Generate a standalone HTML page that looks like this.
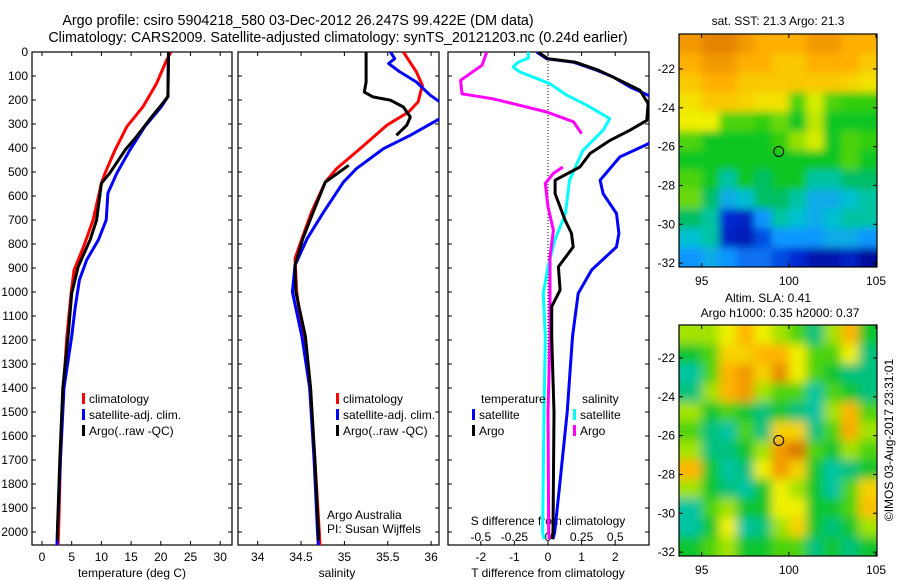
<!DOCTYPE html>
<html><head><meta charset="utf-8"><style>
html,body{margin:0;padding:0;background:#fff;}
svg{display:block;font-family:"Liberation Sans",Arial,sans-serif;}
</style></head><body>
<svg id="c" width="900" height="580" viewBox="0 0 900 580" xmlns="http://www.w3.org/2000/svg">
<defs>
<clipPath id="cp1"><rect x="32" y="52" width="200" height="493"/></clipPath>
<clipPath id="cp2"><rect x="238" y="52" width="201" height="493"/></clipPath>
<clipPath id="cp3"><rect x="448" y="52" width="201" height="493"/></clipPath>
<clipPath id="cm1"><rect x="679" y="34" width="198" height="233"/></clipPath>
<clipPath id="cm2"><rect x="679" y="325" width="198" height="231"/></clipPath>
<filter id="b1" x="-5%" y="-5%" width="110%" height="110%"><feGaussianBlur stdDeviation="4"/></filter>
<filter id="b2" x="-5%" y="-5%" width="110%" height="110%"><feGaussianBlur stdDeviation="5"/></filter>
</defs>
<text x="298" y="25" text-anchor="middle" font-size="14.3">Argo profile: csiro 5904218_580 03-Dec-2012 26.247S 99.422E (DM data)</text>
<text x="338" y="42" text-anchor="middle" font-size="14.3">Climatology: CARS2009. Satellite-adjusted climatology: synTS_20121203.nc (0.24d earlier)</text>
<text x="778" y="25" text-anchor="middle" font-size="12">sat. SST: 21.3 Argo: 21.3</text>
<text x="768" y="302" text-anchor="middle" font-size="12">Altim. SLA: 0.41</text>
<text x="780" y="317" text-anchor="middle" font-size="12">Argo h1000: 0.35 h2000: 0.37</text>
<text transform="translate(893,440) rotate(-90)" text-anchor="middle" font-size="12">©IMOS 03-Aug-2017 23:31:01</text>
<g id="g"></g>
</svg>
<script>
const tDepthBlue=[0,186,228,311,408,505,588,700,783,867,950,1061,1185,1400,1700,2000,2060];
const tBlue=[21.3,21.2,20.1,17.3,14.8,12.6,11.1,10.8,9.5,7.5,6.3,5.6,5.0,3.7,3.1,2.6,2.5];
const tDepthRed=[0,33,131,228,311,408,505,547,700,811,908,1006,1185,1400,1700,2000,2060];
const tRed=[21.7,21.0,19.3,17.0,14.3,12.3,10.6,10.0,8.6,7.0,5.4,4.9,4.2,3.6,3.1,2.8,2.7];
const tDepthArgo=[0,186,214,269,353,408,505,547,700,783,894,1006,1185,1400,1700,2000,2035];
const tArgo=[21.3,21.2,20.3,18.5,15.9,14.0,11.4,10.0,9.2,8.1,6.1,5.0,4.4,3.5,3.0,2.6,2.6];
const sDepthRed=[0,83,139,208,250,305,403,486,542,667,778,861,1000,1185,1400,1700,2000,2060];
const sRed=[35.68,35.83,35.90,35.85,35.74,35.49,35.18,34.91,34.78,34.62,34.51,34.43,34.45,34.52,34.6,34.66,34.71,34.72];
const sDepthBlue=[0,28,48,83,125,180,208,245,278,347,403,486,542,667,778,889,1000,1185,1400,1700,2000,2060];
const sBlue=[35.53,35.58,35.51,35.64,35.83,35.99,36.1,36.3,36.1,35.76,35.45,35.14,34.99,34.76,34.57,34.43,34.40,34.51,34.6,34.65,34.69,34.7];
const sDepthArgoA=[0,125,167,187,201,229,271,305,347];
const sArgoA=[35.25,35.25,35.23,35.33,35.53,35.68,35.76,35.72,35.60];
const sDepthArgoB=[472,542,667,778,889,1000,1185,1400,1700,2000,2035];
const sArgoB=[35.05,34.78,34.64,34.52,34.43,34.44,34.55,34.61,34.66,34.7,34.7];
const dDepthTSat=[0,28,42,76,104,146,180,280,383,437,534,590,673,756,812,908,1006,1186,1500,1800,2000,2030];
const dTSat=[-0.34,-0.04,0.75,1.45,1.94,2.44,2.98,3.6,2.98,2.14,1.55,1.64,2.04,2.11,2.04,1.30,0.90,0.73,0.57,0.35,0.2,0.15];
const dDepthTArgo=[0,28,42,76,118,160,215,285,326,368,423,479,534,590,701,756,812,895,992,1061,1186,1500,2000,2030];
const dTArgo=[-0.3,0.0,0.8,1.5,2.14,2.74,2.98,2.94,2.44,1.85,1.25,0.95,0.21,0.21,0.51,0.70,0.75,0.31,0.36,0.11,0.11,0.18,0.15,0.12];
const dDepthSSat=[0,25,42,62,83,132,180,222,278,326,410,534,673,785,895,1006,1186,1500,2000,2030];
const dSSat=[-0.146,-0.146,-0.22,-0.26,-0.21,0.015,0.14,0.29,0.46,0.41,0.26,0.16,0.13,0.05,0.0,-0.035,-0.02,-0.03,-0.04,-0.03];
const dDepthSArgoA=[0,55,118,174,195,222,250,291,340];
const dSArgoA=[-0.456,-0.49,-0.65,-0.64,-0.41,-0.21,-0.01,0.19,0.25];
const dDepthSArgoB=[479,506,548,645,743,854,1006,1186,1500,2000,2030];
const dSArgoB=[0.11,0.04,-0.02,0.0,0.04,0.015,0.015,0.015,0.0,0.005,0.01];
const depthTicks=[0,100,200,300,400,500,600,700,800,900,1000,1100,1200,1300,1400,1500,1600,1700,1800,1900,2000];
const tTicks=[0,5,10,15,20,25,30];
const sTicks=[34,34.5,35,35.5,36];
const sTickLabels=['34','34.5','35','35.5','36'];
const dTTicks=[-2,-1,0,1,2];
const dSTicks=[-0.5,-0.25,0,0.25,0.5];
const dSTickLabels=['-0.5','-0.25','0','0.25','0.5'];
const sstGrid=[
[0.9,0.95,0.95,0.9,0.85,0.85,0.85,0.9,0.9,0.85,0.85],
[0.85,0.9,0.9,0.85,0.85,0.8,0.8,0.85,0.85,0.85,0.8],
[0.8,0.85,0.85,0.8,0.8,0.8,0.8,0.8,0.8,0.78,0.75],
[0.75,0.8,0.8,0.78,0.75,0.75,0.6,0.7,0.6,0.58,0.58],
[0.72,0.72,0.6,0.6,0.58,0.62,0.55,0.68,0.55,0.55,0.55],
[0.6,0.55,0.55,0.55,0.55,0.58,0.65,0.7,0.55,0.6,0.58],
[0.55,0.55,0.55,0.55,0.55,0.55,0.55,0.55,0.55,0.6,0.55],
[0.6,0.55,0.45,0.55,0.5,0.55,0.55,0.45,0.45,0.5,0.5],
[0.62,0.5,0.35,0.4,0.5,0.5,0.45,0.35,0.35,0.4,0.45],
[0.5,0.45,0.15,0.12,0.3,0.45,0.4,0.35,0.4,0.45,0.45],
[0.4,0.45,0.12,0.1,0.2,0.3,0.3,0.3,0.35,0.35,0.3],
[0.3,0.35,0.3,0.25,0.25,0.2,0.15,0.08,0.08,0.12,0.05]];
const slaGrid=[
[0.65,0.65,0.7,0.8,0.7,0.65,0.6,0.5,0.65,0.8,0.55],
[0.55,0.6,0.75,0.75,0.8,0.8,0.7,0.6,0.6,0.7,0.5],
[0.4,0.6,0.8,0.85,0.75,0.88,0.7,0.6,0.55,0.5,0.5],
[0.5,0.65,0.8,0.85,0.65,0.6,0.6,0.45,0.6,0.55,0.5],
[0.65,0.55,0.6,0.55,0.5,0.55,0.5,0.35,0.65,0.8,0.6],
[0.6,0.5,0.45,0.6,0.5,0.75,0.75,0.5,0.6,0.82,0.65],
[0.65,0.5,0.5,0.55,0.65,0.85,0.92,0.6,0.55,0.65,0.6],
[0.8,0.55,0.45,0.5,0.7,0.85,0.75,0.55,0.4,0.5,0.55],
[0.65,0.55,0.5,0.45,0.55,0.7,0.65,0.55,0.45,0.6,0.75],
[0.45,0.6,0.65,0.55,0.55,0.7,0.7,0.55,0.55,0.6,0.78],
[0.35,0.55,0.7,0.35,0.5,0.65,0.75,0.55,0.5,0.55,0.65],
[0.55,0.6,0.65,0.55,0.55,0.6,0.6,0.5,0.55,0.5,0.55]];
const latTicks=[-22,-24,-26,-28,-30,-32];
const lonTicks=[95,100,105];
const argoLon=99.42, argoLat=-26.25;

const NS='http://www.w3.org/2000/svg';
const G=document.getElementById('g');
function mk(tag,attrs,parent){const e=document.createElementNS(NS,tag);for(const k in attrs)e.setAttribute(k,attrs[k]);(parent||G).appendChild(e);return e;}
function yD(d){return 52+d*0.24;}
function xT(t){return 42+t*5.94;}
function xS(s){return 257.7+(s-34)*86.7;}
function xdT(t){return 548+t*33.6;}
function xdS(s){return 548+s*134.4;}
function line(xs,ds,fx,col,clip,name,w){
  let p='';for(let i=0;i<xs.length;i++){p+=(i?'L':'M')+fx(xs[i]).toFixed(1)+','+yD(ds[i]).toFixed(1);}
  const e=mk('path',{d:p,fill:'none',stroke:col,'stroke-width':w||3,'clip-path':'url(#'+clip+')','stroke-linejoin':'round'});
  
  
}
function panel(x0,x1,name){
  const r=mk('rect',{x:x0,y:52,width:x1-x0,height:493,fill:'none',stroke:'#000','stroke-width':1.2});
  
  
  depthTicks.forEach(d=>{const y=yD(d);mk('line',{x1:x0,x2:x0+4,y1:y,y2:y,stroke:'#000'});mk('line',{x1:x1-4,x2:x1,y1:y,y2:y,stroke:'#000'});});
}
function txt(x,y,s,name,anchor,size){const e=mk('text',{x:x,y:y,'font-size':size||12,'text-anchor':anchor||'middle'});e.textContent=s;
  
  
  return e;}
panel(32,232,'temperature-panel');
depthTicks.forEach(d=>{txt(28,yD(d)+4,String(d),'depth-tick-label','end');});
tTicks.forEach(t=>{const x=xT(t);mk('line',{x1:x,x2:x,y1:52,y2:56,stroke:'#000'});mk('line',{x1:x,x2:x,y1:541,y2:545,stroke:'#000'});txt(x,561,String(t),'temp-tick-label');});
txt(132,577,'temperature (deg C)','temperature-axis-title');
line(tRed,tDepthRed,xT,'#f00','cp1','temp-climatology-line');
line(tBlue,tDepthBlue,xT,'#00f','cp1','temp-satellite-line');
line(tArgo,tDepthArgo,xT,'#000','cp1','temp-argo-line');
function legend(x,y,col,label,name){mk('rect',{x:x,y:y-10,width:3,height:11,fill:col});txt(x+7,y,label,name,'start');}
legend(82,403,'#f00','climatology','legend-climatology');
legend(82,419,'#00f','satellite-adj. clim.','legend-satellite');
legend(82,435,'#000','Argo(..raw -QC)','legend-argo');
panel(238,439,'salinity-panel');
sTicks.forEach((s,i)=>{const x=xS(s);mk('line',{x1:x,x2:x,y1:52,y2:56,stroke:'#000'});mk('line',{x1:x,x2:x,y1:541,y2:545,stroke:'#000'});txt(x,561,sTickLabels[i],'salinity-tick-label');});
txt(337,577,'salinity','salinity-axis-title');
line(sRed,sDepthRed,xS,'#f00','cp2','sal-climatology-line');
line(sBlue,sDepthBlue,xS,'#00f','cp2','sal-satellite-line');
line(sArgoA,sDepthArgoA,xS,'#000','cp2','sal-argo-line-upper');
line(sArgoB,sDepthArgoB,xS,'#000','cp2','sal-argo-line-lower');
legend(336,403,'#f00','climatology','legend-climatology-2');
legend(336,419,'#00f','satellite-adj. clim.','legend-satellite-2');
legend(336,435,'#000','Argo(..raw -QC)','legend-argo-2');
txt(327,519,'Argo Australia','argo-australia-label','start');
txt(327,533,'PI: Susan Wijffels','pi-label','start');
panel(448,649,'difference-panel');
mk('line',{x1:548,x2:548,y1:52,y2:545,stroke:'#000','stroke-dasharray':'1,2'});
dTTicks.forEach(t=>{const x=xdT(t);mk('line',{x1:x,x2:x,y1:52,y2:56,stroke:'#000'});mk('line',{x1:x,x2:x,y1:541,y2:545,stroke:'#000'});txt(x,561,String(t),'tdiff-tick-label');});
dSTicks.forEach((s,i)=>{txt(xdS(s),541,dSTickLabels[i],'sdiff-tick-label');});
txt(548,525,'S difference from climatology','sdiff-axis-title');
txt(548,577,'T difference from climatology','tdiff-axis-title');
line(dSSat,dDepthSSat,xdS,'#0ff','cp3','sdiff-satellite-line');
line(dSArgoA,dDepthSArgoA,xdS,'#f0f','cp3','sdiff-argo-line-upper');
line(dSArgoB,dDepthSArgoB,xdS,'#f0f','cp3','sdiff-argo-line-lower');
line(dTSat,dDepthTSat,xdT,'#00f','cp3','tdiff-satellite-line');
line(dTArgo,dDepthTArgo,xdT,'#000','cp3','tdiff-argo-line');
txt(481,403,'temperature','legend-temperature-header','start');
legend(472,419,'#00f','satellite','legend-t-satellite');
legend(472,435,'#000','Argo','legend-t-argo');
txt(582,403,'salinity','legend-salinity-header','start');
legend(573,419,'#0ff','satellite','legend-s-satellite');
legend(573,435,'#f0f','Argo','legend-s-argo');
const stops=[[0,[0,0,128]],[0.15,[0,40,210]],[0.3,[16,150,255]],[0.42,[0,200,200]],[0.5,[0,190,100]],[0.56,[20,200,20]],[0.65,[150,225,0]],[0.72,[240,240,0]],[0.85,[255,175,0]],[1,[215,110,0]]];
function cmap(v){v=Math.max(0,Math.min(1,v));for(let i=1;i<stops.length;i++){if(v<=stops[i][0]){const a=stops[i-1],b=stops[i],f=(v-a[0])/(b[0]-a[0]);return 'rgb('+a[1].map((c,k)=>Math.round(c+(b[1][k]-c)*f)).join(',')+')';}}return 'rgb(215,110,0)';}
function map(grid,top,bot,latTop,clip,blur,name,gain,floor){
  const x0=679,x1=877,pxLon=(876-701.7)/10,pxLat=(bot-top)/((latTop)-(-32.2));
  const lx=l=>701.7+(l-95)*pxLon, ly=l=>top+(latTop-l)*pxLat;
  const g=mk('g',{'clip-path':'url(#'+clip+')'});
  
  
  const gg=mk('g',{filter:'url(#'+blur+')'},g);
  const rows=grid.length,cols=grid[0].length;
  const lat0=latTop,dl=(latTop+32.2)/rows;
  for(let r=-1;r<=rows;r++)for(let c=-1;c<=cols;c++){
    const rr=Math.min(rows-1,Math.max(0,r)),cc=Math.min(cols-1,Math.max(0,c));
    const xa=lx(94+c),ya=ly(lat0-r*dl);
    const v=Math.max(floor,0.6+(grid[rr][cc]-0.6)*gain);
    const e=mk('rect',{x:xa.toFixed(1),y:ya.toFixed(1),width:(pxLon+0.6).toFixed(1),height:(dl*pxLat+0.6).toFixed(1),fill:cmap(v)},gg);
    
    
  }
  mk('rect',{x:x0,y:top,width:x1-x0,height:bot-top,fill:'none',stroke:'#000','stroke-width':1.2});
  latTicks.forEach(l=>{const y=ly(l);mk('line',{x1:x0,x2:x0+4,y1:y,y2:y,stroke:'#000'});mk('line',{x1:x1-4,x2:x1,y1:y,y2:y,stroke:'#000'});txt(675,y+4,String(l),'lat-tick-label','end');});
  lonTicks.forEach(l=>{const x=lx(l);mk('line',{x1:x,x2:x,y1:top,y2:top+4,stroke:'#000'});mk('line',{x1:x,x2:x,y1:bot-4,y2:bot,stroke:'#000'});txt(x,bot+18,String(l),'lon-tick-label');});
  const m=mk('circle',{cx:lx(argoLon),cy:ly(argoLat),r:5,fill:'none',stroke:'#000','stroke-width':1});
  
  
}
map(sstGrid,34,267,-20.2,'cm1','b1','sst-map',1,0);
map(slaGrid,325,556,-20.3,'cm2','b2','sla-map',1.2,0.45);
</script>
</body></html>
